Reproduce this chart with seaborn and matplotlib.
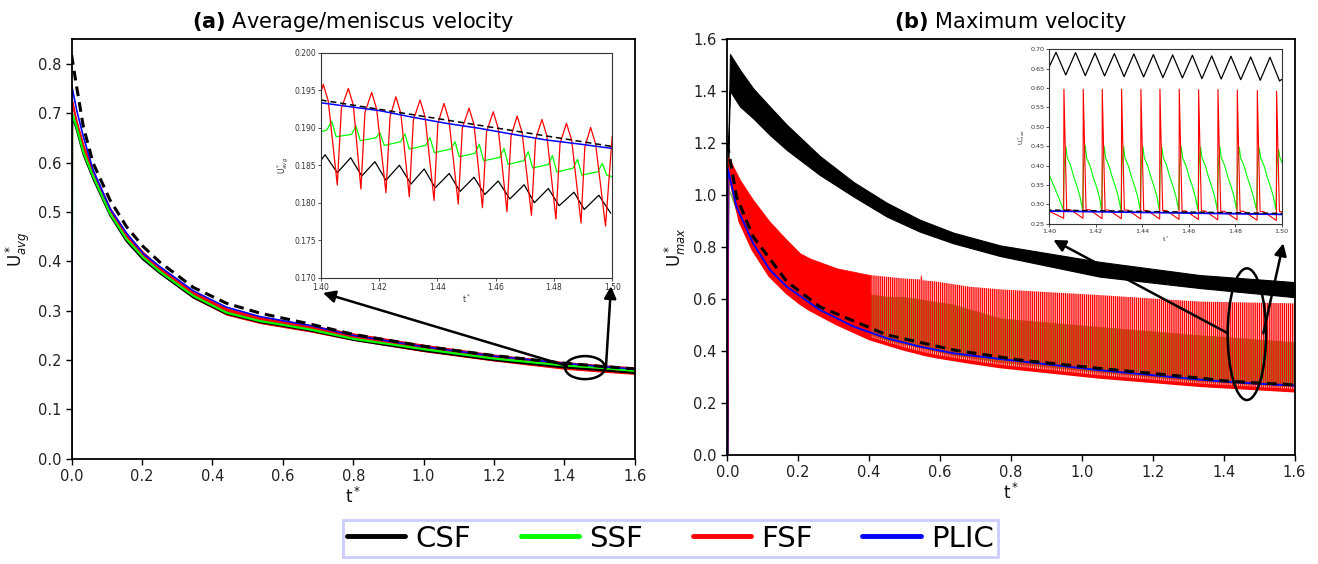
import numpy as np
import matplotlib
matplotlib.use("Agg")
import matplotlib.pyplot as plt
import seaborn as sns
from matplotlib.patches import Ellipse
from matplotlib.lines import Line2D

sns.set_theme(style="ticks")
plt.rcParams["font.family"] = ["DejaVu Sans"]
plt.rcParams["mathtext.fontset"] = "dejavusans"
plt.rcParams["hatch.linewidth"] = 1.0

C_CSF, C_SSF, C_FSF, C_PLIC = "black", "#00ff00", "#ff0000", "#0000ff"
labels = ["CSF", "SSF", "FSF", "PLIC"]

# ---------------- (a) average / meniscus velocity
t_a = [0.0, 0.001, 0.014, 0.033, 0.061, 0.109, 0.156, 0.203, 0.251, 0.346,
       0.44, 0.535, 0.677, 0.8, 1.0, 1.2, 1.4, 1.5, 1.6]
csf_a = [0.0, 0.695, 0.668, 0.618, 0.568, 0.494, 0.441, 0.404, 0.376, 0.327,
         0.294, 0.277, 0.260, 0.241, 0.219, 0.200, 0.1852, 0.1798, 0.174]
ssf_a = [0.0, 0.700, 0.672, 0.622, 0.572, 0.497, 0.445, 0.408, 0.379, 0.330,
         0.296, 0.279, 0.262, 0.243, 0.222, 0.203, 0.1890, 0.1843, 0.178]
fsf_a_hi = [0.0, 0.727, 0.685, 0.637, 0.583, 0.508, 0.456, 0.419, 0.388, 0.339,
            0.305, 0.288, 0.271, 0.254, 0.231, 0.211, 0.1958, 0.1900, 0.185]
fsf_a_lo = [0.0, 0.719, 0.675, 0.627, 0.573, 0.497, 0.445, 0.407, 0.376, 0.326,
            0.292, 0.275, 0.258, 0.241, 0.218, 0.199, 0.1824, 0.1769, 0.172]
plic_a = [0.0, 0.753, 0.707, 0.653, 0.585, 0.507, 0.457, 0.416, 0.389, 0.340,
          0.307, 0.288, 0.270, 0.250, 0.227, 0.208, 0.1933, 0.1872, 0.1815]
ref_a = [0.818, 0.812, 0.754, 0.673, 0.599, 0.524, 0.470, 0.430, 0.398, 0.347,
         0.315, 0.295, 0.273, 0.252, 0.228, 0.209, 0.1937, 0.1875, 0.182]

# inset (a): zoom 1.40 - 1.50
csf_ia_t = [1.4000, 1.4015, 1.4057, 1.4103, 1.4141, 1.4186, 1.4224, 1.4270, 1.4310,
            1.4355, 1.4393, 1.4441, 1.4478, 1.4526, 1.4563, 1.4609, 1.4649, 1.4698,
            1.4733, 1.4781, 1.4818, 1.4869, 1.4904, 1.4954, 1.4995]
csf_ia_u = [0.1856, 0.1864, 0.1840, 0.1860, 0.18356, 0.18547, 0.1830, 0.1850, 0.1825,
            0.1845, 0.1820, 0.1839, 0.1815, 0.1834, 0.1811, 0.1829, 0.1805, 0.1824,
            0.1800, 0.1819, 0.1796, 0.1814, 0.1791, 0.1810, 0.1786]
ssf_ia_t = [1.4000, 1.4021, 1.4038, 1.4053, 1.4106, 1.4121, 1.4136, 1.4190, 1.4203,
            1.4218, 1.4274, 1.4289, 1.4304, 1.4360, 1.4375, 1.4390, 1.4446, 1.4461,
            1.4475, 1.4529, 1.4544, 1.4559, 1.4614, 1.4629, 1.4643, 1.4697, 1.4712,
            1.4727, 1.4781, 1.4795, 1.4810, 1.4866, 1.4881, 1.4896, 1.4951, 1.4966,
            1.4981, 1.5000]
ssf_ia_u = [0.18947, 0.18969, 0.19089, 0.18880, 0.18911, 0.19022, 0.18827, 0.18867, 0.18933,
            0.18764, 0.18813, 0.18916, 0.18716, 0.18764, 0.18867, 0.18667, 0.18716, 0.18813,
            0.18613, 0.18658, 0.18778, 0.18560, 0.18604, 0.18724, 0.18511, 0.18560, 0.18680,
            0.18462, 0.18511, 0.18627, 0.18409, 0.18462, 0.18578, 0.18369, 0.18413, 0.18524,
            0.18369, 0.18347]
fsf_ia_t = [1.4000, 1.4009, 1.4026, 1.4057, 1.4071, 1.4095, 1.4112, 1.4138, 1.4152, 1.4175,
            1.4192, 1.4224, 1.4238, 1.4258, 1.4275, 1.4304, 1.4318, 1.4341, 1.4358, 1.4389,
            1.4402, 1.4423, 1.4440, 1.4472, 1.4486, 1.4509, 1.4526, 1.4555, 1.4569, 1.4592,
            1.4609, 1.4639, 1.4653, 1.4674, 1.4691, 1.4723, 1.4737, 1.4759, 1.4776, 1.4807,
            1.4821, 1.4843, 1.4861, 1.4893, 1.4906, 1.4926, 1.4943, 1.4977, 1.5000]
fsf_ia_u = [0.19458, 0.19578, 0.19356, 0.18236, 0.19258, 0.19524, 0.19302, 0.18182, 0.19204, 0.19471,
            0.19249, 0.18133, 0.19147, 0.19413, 0.19191, 0.18080, 0.19102, 0.19369, 0.19147, 0.18031,
            0.19058, 0.19324, 0.19102, 0.17982, 0.18996, 0.19262, 0.19040, 0.17933, 0.18947, 0.19213,
            0.18991, 0.17880, 0.18889, 0.19156, 0.18933, 0.17831, 0.18844, 0.19111, 0.18889, 0.17782,
            0.18791, 0.19058, 0.18836, 0.17729, 0.18738, 0.19004, 0.18782, 0.17689, 0.18889]
plic_ia_t = [1.400, 1.4203, 1.4318, 1.4432, 1.4546, 1.4661, 1.4775, 1.4889, 1.500]
plic_ia_u = [0.19333, 0.19227, 0.19138, 0.19058, 0.18991, 0.18911, 0.18836, 0.18782, 0.18724]

# ---------------- (b) maximum velocity: oscillating series kept as envelopes
t_csf_b = [0.0, 0.003, 0.0076, 0.036, 0.073, 0.12, 0.168, 0.261, 0.356, 0.45,
           0.543, 0.638, 0.77, 1.05, 1.333, 1.6]
csf_b_hi = [0.0, 1.20, 1.542, 1.481, 1.41, 1.34, 1.27, 1.15, 1.05, 0.97,
            0.905, 0.855, 0.806, 0.743, 0.692, 0.665]
csf_b_lo = [0.0, 1.18, 1.40, 1.34, 1.295, 1.231, 1.173, 1.077, 0.994, 0.917,
            0.859, 0.814, 0.765, 0.686, 0.642, 0.607]
t_ssf_b = [0.0, 0.003, 0.036, 0.073, 0.12, 0.168, 0.261, 0.356, 0.45, 0.5,
           0.638, 0.77, 1.05, 1.333, 1.6]
ssf_b_hi = [0.0, 1.03, 0.93, 0.85, 0.78, 0.72, 0.66, 0.63, 0.61, 0.609,
            0.58, 0.527, 0.494, 0.462, 0.436]
ssf_b_lo = [0.0, 1.02, 0.895, 0.80, 0.70, 0.635, 0.548, 0.485, 0.44, 0.425,
            0.383, 0.356, 0.318, 0.283, 0.262]
t_fsf_b = [0.0, 0.003, 0.036, 0.073, 0.12, 0.168, 0.205, 0.233, 0.309, 0.403,
           0.497, 0.544, 0.546, 0.549, 0.551, 0.59, 0.685, 0.77, 1.05, 1.333, 1.6]
fsf_b_hi = [0.0, 1.147, 1.058, 0.981, 0.897, 0.827, 0.776, 0.756, 0.718, 0.692,
            0.679, 0.675, 0.690, 0.690, 0.672, 0.667, 0.647, 0.637, 0.615, 0.590, 0.583]
fsf_b_lo = [0.0, 1.10, 0.90, 0.79, 0.69, 0.625, 0.585, 0.56, 0.505, 0.447,
            0.408, 0.392, 0.391, 0.390, 0.389, 0.378, 0.357, 0.34, 0.30, 0.268, 0.247]
t_plic_b = [0.0, 0.001, 0.026, 0.073, 0.12, 0.168, 0.261, 0.356, 0.45, 0.543,
            0.638, 0.77, 1.05, 1.333, 1.4, 1.5, 1.6]
plic_b = [0.0, 1.104, 0.955, 0.814, 0.712, 0.647, 0.558, 0.494, 0.449, 0.417,
          0.391, 0.369, 0.326, 0.290, 0.2826, 0.2740, 0.267]
t_ref_b = [0.0, 0.026, 0.073, 0.168, 0.261, 0.45, 0.638, 0.826, 1.05, 1.333, 1.4, 1.5, 1.6]
ref_b = [1.199, 0.993, 0.84, 0.667, 0.570, 0.462, 0.404, 0.365, 0.333, 0.296, 0.2852, 0.2766, 0.270]

# inset (b)
csf_ib_t = [1.4000, 1.4029, 1.4071, 1.4113, 1.4155, 1.4197, 1.4238, 1.4280, 1.4322,
            1.4364, 1.4406, 1.4448, 1.4489, 1.4531, 1.4573, 1.4616, 1.4657, 1.4699,
            1.4740, 1.4782, 1.4824, 1.4867, 1.4908, 1.4950, 1.4991, 1.5000]
csf_ib_u = [0.655, 0.6923, 0.6337, 0.6915, 0.6320, 0.6902, 0.6312, 0.6889, 0.6294,
            0.6880, 0.6286, 0.6863, 0.6269, 0.6855, 0.6260, 0.6846, 0.6243, 0.6829,
            0.6234, 0.6820, 0.6217, 0.6803, 0.6200, 0.6794, 0.6183, 0.622]
spike_t = [1.40631, 1.41463, 1.42281, 1.43113, 1.43945, 1.44763,
           1.45595, 1.46428, 1.47260, 1.48092, 1.48953, 1.49785]
fsf_spike_u = [0.597, 0.597, 0.597, 0.597, 0.597, 0.597, 0.597, 0.596, 0.596, 0.595, 0.594, 0.5915]
fsf_low_u = [0.264, 0.264, 0.263, 0.263, 0.262, 0.262, 0.261, 0.261, 0.260, 0.260, 0.259, 0.258]
fsf_mid_u = [0.385, 0.388, 0.385, 0.383, 0.386, 0.385, 0.384, 0.386, 0.385, 0.384, 0.385, 0.383]
fsf_base_u = [0.286, 0.286, 0.285, 0.285, 0.284, 0.284, 0.283, 0.283, 0.282, 0.282, 0.281, 0.281]
ssf_peak_u = [0.449, 0.452, 0.449, 0.449, 0.449, 0.447, 0.449, 0.447, 0.449, 0.447, 0.445, 0.441]
ssf_cycle_dt = [-0.0003, 0.00014, 0.00086, 0.00143, 0.00287, 0.0043, 0.0057, 0.0069]
ssf_cycle_u = [0.286, 0.40, None, 0.42, 0.40, 0.37, 0.345, 0.32]

fsf_ib_t, fsf_ib_u = [1.400], [0.282]
for ts, pk, lo, mid, base in zip(spike_t, fsf_spike_u, fsf_low_u, fsf_mid_u, fsf_base_u):
    fsf_ib_t += [ts - 0.0001, ts, ts + 0.0008, ts + 0.0012, ts + 0.0028]
    fsf_ib_u += [lo, pk, mid, base, base]
ssf_ib_t, ssf_ib_u = [1.400, 1.4015, 1.4039], [0.376, 0.354, 0.320]
for ts, pk in zip(spike_t, ssf_peak_u):
    for dt, v in zip(ssf_cycle_dt, ssf_cycle_u):
        ssf_ib_t.append(ts + dt)
        ssf_ib_u.append(pk if v is None else v)


def line(ax, x, y, **kw):
    sns.lineplot(x=x, y=y, ax=ax, sort=False, estimator=None, legend=False, **kw)


def style_main(ax, ylim, yticks, ylab):
    ax.set_xlim(0, 1.6)
    ax.set_ylim(*ylim)
    ax.set_xticks(np.arange(0, 1.61, 0.2))
    ax.set_yticks(yticks)
    ax.xaxis.set_major_formatter(plt.FormatStrFormatter("%.1f"))
    ax.yaxis.set_major_formatter(plt.FormatStrFormatter("%.1f"))
    ax.tick_params(labelsize=10.5, length=4, width=1, colors="black", labelcolor="#222")
    for s in ax.spines.values():
        s.set_visible(True)
        s.set_linewidth(1.3)
        s.set_color("black")
    ax.set_xlabel(r"t$^*$", fontsize=12, labelpad=2, color="#111")
    ax.set_ylabel(ylab, fontsize=12, labelpad=4, color="#111")


def style_inset(ax, xlim, ylim, yticks, yfmt, ylab, fs):
    ax.set_facecolor("white")
    ax.set_xlim(*xlim)
    ax.set_ylim(*ylim)
    ax.set_xticks(np.arange(1.40, 1.501, 0.02))
    ax.set_yticks(yticks)
    ax.xaxis.set_major_formatter(plt.FormatStrFormatter("%.2f"))
    ax.yaxis.set_major_formatter(plt.FormatStrFormatter(yfmt))
    ax.tick_params(labelsize=fs, length=2, width=0.6, pad=1.5, colors="#333", labelcolor="#333")
    for s in ax.spines.values():
        s.set_visible(True)
        s.set_linewidth(0.8)
        s.set_color("#333")
    ax.set_xlabel(r"t$^*$", fontsize=fs, labelpad=1, color="#333")
    ax.set_ylabel(ylab, fontsize=fs, labelpad=2, color="#333")


fig = plt.figure(figsize=(13.18, 5.64), dpi=100)
ax_a = fig.add_axes([0.0544, 0.1867, 0.4272, 0.7436])
ax_b = fig.add_axes([0.5518, 0.1933, 0.4304, 0.7376])

# ----- panel (a)
line(ax_a, t_a, csf_a, color=C_CSF, lw=1.6)
line(ax_a, t_a, ssf_a, color=C_SSF, lw=1.6)
ax_a.fill_between(t_a, fsf_a_lo, fsf_a_hi, color=C_FSF, lw=0.8)
line(ax_a, t_a, plic_a, color=C_PLIC, lw=1.2)
line(ax_a, t_a, ref_a, color="black", lw=2.2, linestyle=(0, (3.2, 2.0)))
style_main(ax_a, (0, 0.85), np.arange(0, 0.81, 0.1), r"U$^*_{avg}$")
ax_a.set_title(r"$\bf{(a)}$ Average/meniscus velocity", fontsize=15, pad=8, color="black")
ax_a.add_patch(Ellipse((1.4587, 0.1846), 0.1137, 0.0467, fill=False, lw=1.8, color="black", zorder=6))
arrow = dict(arrowstyle="-|>", color="black", lw=1.8, mutation_scale=18, shrinkA=0, shrinkB=0)
ax_a.annotate("", xy=(0.714, 0.336), xytext=(1.4075, 0.188), arrowprops=arrow, zorder=6)
ax_a.annotate("", xy=(1.5325, 0.3497), xytext=(1.518, 0.184), arrowprops=arrow, zorder=6)

# ----- panel (b)
ax_b.fill_between(t_csf_b, csf_b_lo, csf_b_hi, color=C_CSF, lw=0.8)
ax_b.fill_between(t_ssf_b, ssf_b_lo, ssf_b_hi, color="#5aa628", alpha=0.85, lw=0)
tf = np.array(t_fsf_b)
ax_b.fill_between(tf, fsf_b_lo, fsf_b_hi, where=tf <= 0.403, color=C_FSF, lw=0.5)
ax_b.fill_between(tf, fsf_b_lo, fsf_b_hi, where=tf >= 0.403, facecolor="none",
                  edgecolor=C_FSF, hatch="|" * 8, lw=0)
line(ax_b, t_fsf_b[1:], fsf_b_lo[1:], color=C_FSF, lw=2.5)
line(ax_b, t_plic_b, plic_b, color=C_PLIC, lw=1.4)
line(ax_b, t_ref_b, ref_b, color="black", lw=2.2, linestyle=(0, (3.2, 2.0)))
style_main(ax_b, (0, 1.6), np.arange(0, 1.61, 0.2), r"U$^*_{max}$")
ax_b.set_title(r"$\bf{(b)}$ Maximum velocity", fontsize=15, pad=8, color="black")
ax_b.add_patch(Ellipse((1.4655, 0.4646), 0.108, 0.5065, fill=False, lw=1.8, color="black", zorder=6))
ax_b.annotate("", xy=(0.9196, 0.8269), xytext=(1.4088, 0.4704), arrowprops=arrow, zorder=6)
ax_b.annotate("", xy=(1.5684, 0.8142), xytext=(1.512, 0.468), arrowprops=arrow, zorder=6)

# ----- inset (a)
ia = fig.add_axes([0.2433, 0.5076, 0.2212, 0.3989], zorder=5)
line(ia, csf_ia_t, csf_ia_u, color=C_CSF, lw=0.9)
line(ia, ssf_ia_t, ssf_ia_u, color=C_SSF, lw=0.9)
line(ia, fsf_ia_t, fsf_ia_u, color=C_FSF, lw=0.9)
line(ia, plic_ia_t, plic_ia_u, color=C_PLIC, lw=1.1)
line(ia, t_a, ref_a, color="black", lw=1.1, linestyle=(0, (4, 2.5)))
style_inset(ia, (1.40, 1.50), (0.170, 0.200), np.arange(0.170, 0.2001, 0.005), "%.3f",
            r"U$^*_{avg}$", 5.5)

# ----- inset (b)
ib = fig.add_axes([0.7961, 0.6034, 0.1763, 0.3092], zorder=5)
line(ib, csf_ib_t, csf_ib_u, color=C_CSF, lw=0.9)
line(ib, ssf_ib_t, ssf_ib_u, color=C_SSF, lw=0.8)
line(ib, fsf_ib_t, fsf_ib_u, color=C_FSF, lw=0.8)
line(ib, t_plic_b, plic_b, color=C_PLIC, lw=1.3)
line(ib, t_ref_b, ref_b, color="black", lw=1.0, linestyle=(0, (4, 2.5)))
style_inset(ib, (1.40, 1.50), (0.25, 0.70), np.arange(0.25, 0.701, 0.05), "%.2f",
            r"U$^*_{max}$", 4.6)

handles = [Line2D([], [], color=c, lw=3.5) for c in (C_CSF, C_SSF, C_FSF, C_PLIC)]
leg = fig.legend(handles, labels, loc="center", bbox_to_anchor=(0.5087, 0.045), ncol=4,
                 fontsize=21, frameon=True, fancybox=False, framealpha=1, edgecolor="#ccccff",
                 handlelength=2.0, handletextpad=0.35, columnspacing=1.7,
                 borderpad=0.15, borderaxespad=0, labelcolor="black")
leg.get_frame().set_linewidth(2)

fig.savefig("out.png", dpi=100)
